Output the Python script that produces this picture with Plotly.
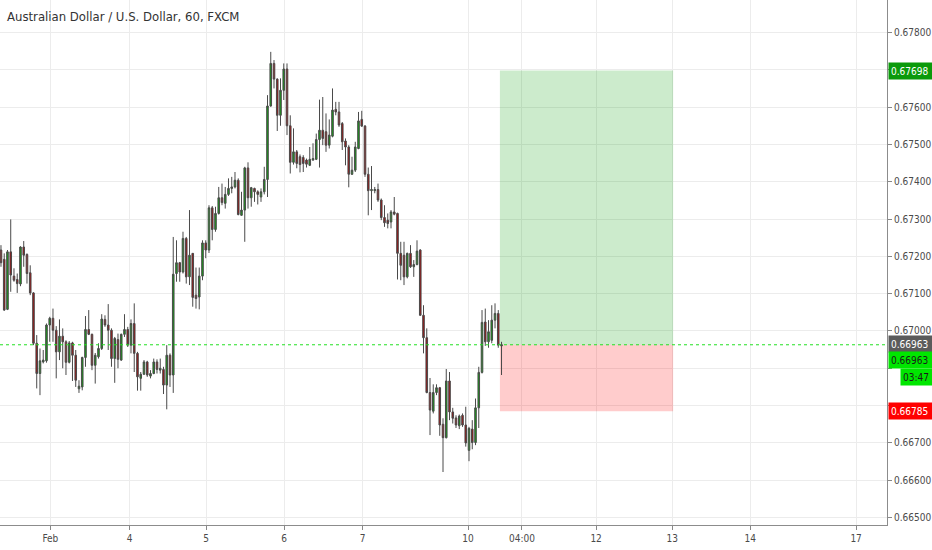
import plotly.graph_objects as go

# ---------------- data (hourly AUD/USD candles) ----------------
opens = [0.67217, 0.67192, 0.67058, 0.67212, 0.67147, 0.67138, 0.67126, 0.67225, 0.67205, 0.67156,
         0.67102, 0.66967, 0.66886, 0.66917, 0.66920, 0.67016, 0.67034, 0.67002, 0.66944, 0.66986,
         0.66971, 0.66916, 0.66968, 0.66935, 0.66845, 0.66850, 0.66929, 0.67004, 0.66991, 0.66908,
         0.66931, 0.66953, 0.67031, 0.67016, 0.67002, 0.66926, 0.66977, 0.66922, 0.66991, 0.67004,
         0.66962, 0.67020, 0.66940, 0.66873, 0.66884, 0.66917, 0.66879, 0.66886, 0.66917, 0.66895,
         0.66897, 0.66855, 0.66935, 0.66882, 0.67154, 0.67183, 0.67158, 0.67248, 0.67145, 0.67208,
         0.67096, 0.67091, 0.67147, 0.67236, 0.67217, 0.67330, 0.67272, 0.67315, 0.67357, 0.67342,
         0.67366, 0.67382, 0.67386, 0.67404, 0.67310, 0.67324, 0.67437, 0.67357, 0.67382, 0.67373,
         0.67359, 0.67373, 0.67406, 0.67603, 0.67717, 0.67675, 0.67578, 0.67645, 0.67702, 0.67550,
         0.67452, 0.67480, 0.67467, 0.67465, 0.67458, 0.67444, 0.67458, 0.67460, 0.67513, 0.67538,
         0.67534, 0.67498, 0.67522, 0.67594, 0.67587, 0.67556, 0.67509, 0.67493, 0.67420, 0.67431,
         0.67489, 0.67567, 0.67549, 0.67420, 0.67376, 0.67376, 0.67379, 0.67351, 0.67304, 0.67297,
         0.67292, 0.67319, 0.67315, 0.67208, 0.67203, 0.67145, 0.67208, 0.67172, 0.67178, 0.67217,
         0.67042, 0.66982, 0.66835, 0.66785, 0.66835, 0.66848, 0.66750, 0.66714, 0.66866, 0.66783,
         0.66767, 0.66746, 0.66774, 0.66748, 0.66680, 0.66737, 0.66701, 0.66794, 0.66889, 0.67024,
         0.66971, 0.66975, 0.67029, 0.67047, 0.66960]
highs = [0.67230, 0.67208, 0.67217, 0.67299, 0.67168, 0.67154, 0.67227, 0.67241, 0.67208, 0.67176,
         0.67104, 0.66989, 0.66953, 0.66949, 0.67020, 0.67038, 0.67060, 0.67013, 0.67031, 0.67007,
         0.66975, 0.66973, 0.66971, 0.66949, 0.66868, 0.66931, 0.67040, 0.67056, 0.66993, 0.66941,
         0.66967, 0.67045, 0.67042, 0.67072, 0.67007, 0.66984, 0.66993, 0.66993, 0.67045, 0.67011,
         0.67031, 0.67074, 0.66944, 0.66890, 0.66922, 0.66920, 0.66895, 0.66926, 0.66924, 0.66926,
         0.66904, 0.66962, 0.66940, 0.67252, 0.67243, 0.67185, 0.67266, 0.67252, 0.67324, 0.67209,
         0.67170, 0.67170, 0.67243, 0.67243, 0.67337, 0.67335, 0.67333, 0.67386, 0.67395, 0.67386,
         0.67409, 0.67413, 0.67426, 0.67409, 0.67373, 0.67440, 0.67452, 0.67386, 0.67384, 0.67377,
         0.67382, 0.67440, 0.67632, 0.67748, 0.67726, 0.67677, 0.67677, 0.67717, 0.67717, 0.67578,
         0.67543, 0.67485, 0.67473, 0.67471, 0.67462, 0.67493, 0.67503, 0.67529, 0.67620, 0.67627,
         0.67583, 0.67567, 0.67650, 0.67614, 0.67614, 0.67560, 0.67516, 0.67498, 0.67467, 0.67507,
         0.67587, 0.67590, 0.67552, 0.67438, 0.67442, 0.67386, 0.67395, 0.67355, 0.67337, 0.67315,
         0.67324, 0.67359, 0.67317, 0.67239, 0.67239, 0.67210, 0.67230, 0.67190, 0.67243, 0.67219,
         0.67069, 0.67007, 0.66874, 0.66857, 0.66857, 0.66850, 0.66766, 0.66898, 0.66890, 0.66794,
         0.66774, 0.66776, 0.66779, 0.66797, 0.66743, 0.66761, 0.66819, 0.66904, 0.67056, 0.67060,
         0.67029, 0.67069, 0.67074, 0.67056, 0.66971]
lows = [0.67172, 0.67054, 0.67056, 0.67105, 0.67132, 0.67102, 0.67120, 0.67172, 0.67127, 0.67096,
        0.66962, 0.66846, 0.66828, 0.66913, 0.66915, 0.66971, 0.66971, 0.66873, 0.66922, 0.66900,
        0.66882, 0.66913, 0.66866, 0.66850, 0.66834, 0.66841, 0.66904, 0.66989, 0.66895, 0.66859,
        0.66926, 0.66949, 0.67011, 0.66949, 0.66904, 0.66861, 0.66900, 0.66920, 0.66984, 0.66957,
        0.66940, 0.66890, 0.66840, 0.66840, 0.66882, 0.66877, 0.66873, 0.66884, 0.66886, 0.66886,
        0.66831, 0.66790, 0.66850, 0.66834, 0.67132, 0.67132, 0.67154, 0.67127, 0.67123, 0.67065,
        0.67060, 0.67058, 0.67136, 0.67195, 0.67209, 0.67243, 0.67266, 0.67312, 0.67337, 0.67328,
        0.67362, 0.67369, 0.67382, 0.67310, 0.67309, 0.67239, 0.67328, 0.67333, 0.67346, 0.67339,
        0.67346, 0.67366, 0.67359, 0.67601, 0.67650, 0.67536, 0.67550, 0.67619, 0.67525, 0.67422,
        0.67446, 0.67436, 0.67425, 0.67426, 0.67438, 0.67442, 0.67456, 0.67458, 0.67438, 0.67498,
        0.67480, 0.67489, 0.67519, 0.67578, 0.67547, 0.67485, 0.67444, 0.67385, 0.67418, 0.67426,
        0.67487, 0.67547, 0.67413, 0.67310, 0.67324, 0.67369, 0.67346, 0.67297, 0.67279, 0.67275,
        0.67275, 0.67310, 0.67138, 0.67136, 0.67123, 0.67141, 0.67169, 0.67145, 0.67176, 0.67041,
        0.66940, 0.66833, 0.66721, 0.66779, 0.66828, 0.66719, 0.66622, 0.66712, 0.66761, 0.66752,
        0.66740, 0.66737, 0.66743, 0.66690, 0.66651, 0.66683, 0.66694, 0.66740, 0.66886, 0.66960,
        0.66955, 0.66967, 0.67007, 0.66955, 0.66882]
closes = [0.67183, 0.67056, 0.67212, 0.67150, 0.67136, 0.67127, 0.67225, 0.67203, 0.67154, 0.67102,
          0.66967, 0.66886, 0.66920, 0.66922, 0.67016, 0.67034, 0.67002, 0.66944, 0.66986, 0.66971,
          0.66916, 0.66968, 0.66935, 0.66868, 0.66852, 0.66929, 0.67004, 0.66991, 0.66908, 0.66935,
          0.66953, 0.67032, 0.67016, 0.67002, 0.66926, 0.66980, 0.66924, 0.66991, 0.67004, 0.66962,
          0.67020, 0.66940, 0.66877, 0.66884, 0.66917, 0.66882, 0.66886, 0.66917, 0.66897, 0.66900,
          0.66855, 0.66935, 0.66882, 0.67152, 0.67183, 0.67158, 0.67248, 0.67145, 0.67203, 0.67090,
          0.67087, 0.67147, 0.67236, 0.67217, 0.67330, 0.67272, 0.67315, 0.67357, 0.67344, 0.67366,
          0.67382, 0.67386, 0.67404, 0.67312, 0.67324, 0.67437, 0.67357, 0.67384, 0.67373, 0.67366,
          0.67373, 0.67406, 0.67603, 0.67717, 0.67675, 0.67578, 0.67645, 0.67702, 0.67550, 0.67452,
          0.67480, 0.67449, 0.67446, 0.67449, 0.67447, 0.67460, 0.67462, 0.67513, 0.67538, 0.67516,
          0.67498, 0.67525, 0.67592, 0.67587, 0.67552, 0.67507, 0.67493, 0.67420, 0.67431, 0.67493,
          0.67563, 0.67549, 0.67420, 0.67376, 0.67379, 0.67379, 0.67351, 0.67304, 0.67290, 0.67288,
          0.67319, 0.67313, 0.67208, 0.67176, 0.67145, 0.67208, 0.67172, 0.67178, 0.67214, 0.67042,
          0.66982, 0.66835, 0.66788, 0.66835, 0.66848, 0.66748, 0.66714, 0.66866, 0.66783, 0.66766,
          0.66748, 0.66772, 0.66748, 0.66700, 0.66739, 0.66701, 0.66794, 0.66889, 0.67023, 0.66971,
          0.66998, 0.67029, 0.67047, 0.66962, 0.66963]
bars = list(range(len(opens)))

# time-axis labels (position in bar units) and labels
tick_bars = [15.2, 39.6, 63.1, 87.1, 111.3, 143.7, 160.3, 183.1, 206.5, 230.5, 263.1]
tick_labels = ["Feb", "4", "5", "6", "7", "10", "04:00", "12", "13", "14", "17"]

# price-axis levels; levels hidden behind the price tags carry no text
price_levels = [0.665, 0.666, 0.667, 0.668, 0.669, 0.670, 0.671, 0.672, 0.673, 0.674,
                0.675, 0.676, 0.677, 0.678]
hidden_levels = [0.668, 0.669, 0.677]

# long-position tool
entry_price = 0.66963
target_price = 0.67698
stop_price = 0.66785
position_start_bar = 153.5
position_end_bar = 206.8
last_price = 0.66963
countdown = "03:47"
title_text = "Australian Dollar / U.S. Dollar, 60, FXCM"

FONT = "DejaVu Sans Condensed, Liberation Sans Narrow, DejaVu Sans, sans-serif"

price_text = ["" if any(abs(v - h) < 1e-9 for h in hidden_levels) else "{:.5f}".format(v)
              for v in price_levels]

fig = go.Figure()
fig.add_trace(go.Candlestick(
    x=bars, open=opens, high=highs, low=lows, close=closes,
    increasing=dict(line=dict(color="#4a4a4a", width=1), fillcolor="#12a012"),
    decreasing=dict(line=dict(color="#4a4a4a", width=1), fillcolor="#a31010"),
    hoverinfo="skip", showlegend=False,
))

# position boxes
fig.add_shape(type="rect", x0=position_start_bar, x1=position_end_bar, y0=entry_price, y1=target_price,
              fillcolor="rgba(0,153,0,0.2)", line=dict(width=0), layer="between")
fig.add_shape(type="rect", x0=position_start_bar, x1=position_end_bar, y0=stop_price, y1=entry_price,
              fillcolor="rgba(255,0,0,0.2)", line=dict(width=0), layer="between")
# last price dotted line
fig.add_shape(type="line", xref="paper", x0=0, x1=1, y0=last_price, y1=last_price,
              line=dict(color="#22e022", width=1, dash="dot"), layer="above")


def tag(y, text, bg, fg, yshift=0, xshift=1, width=42):
    fig.add_annotation(xref="paper", x=1, xanchor="left", y=y, yanchor="middle", text=text,
                       showarrow=False, bgcolor=bg, font=dict(family=FONT, size=10, color=fg),
                       width=width, height=12, align="left", borderpad=2, xshift=xshift, yshift=yshift)


tag(target_price, "{:.5f}".format(target_price), "#0b9a0b", "#ffffff")
tag(entry_price, "{:.5f}".format(entry_price), "#5b5b5b", "#ffffff", yshift=1)
tag(last_price, "{:.5f}".format(last_price), "#00e600", "#1a1a1a", yshift=-15)
tag(last_price, countdown, "#00e600", "#1a1a1a", yshift=-32, xshift=13, width=30)
tag(stop_price, "{:.5f}".format(stop_price), "#ff0000", "#ffffff")

fig.add_annotation(xref="paper", yref="paper", x=0, y=1, xanchor="left", yanchor="top",
                   xshift=5, yshift=-7, text=title_text, showarrow=False,
                   font=dict(family=FONT, size=13, color="#333333"))

fig.update_layout(
    width=932, height=550,
    margin=dict(l=0, r=45, t=0, b=25),
    paper_bgcolor="#ffffff", plot_bgcolor="#ffffff",
    showlegend=False,
    font=dict(family=FONT, size=10, color="#4a4a4a"),
    xaxis=dict(
        range=[-0.3, 272.6], rangeslider=dict(visible=False),
        tickmode="array", tickvals=tick_bars, ticktext=tick_labels,
        ticks="outside", ticklen=4, tickcolor="#888888",
        showgrid=True, gridcolor="#ececec", gridwidth=1,
        showline=True, linecolor="#8c8c8c", linewidth=1, zeroline=False,
        tickfont=dict(family=FONT, size=10, color="#4a4a4a"),
    ),
    yaxis=dict(
        side="right", range=[0.66480, 0.67887],
        tickmode="array", tickvals=price_levels, ticktext=price_text,
        ticks="outside", ticklen=4, tickcolor="#888888",
        showgrid=True, gridcolor="#ececec", gridwidth=1,
        showline=True, linecolor="#8c8c8c", linewidth=1, zeroline=False,
        tickfont=dict(family=FONT, size=10, color="#4a4a4a"),
    ),
)

fig.write_html("out.html", config={"displayModeBar": False},
               post_script="document.body.style.margin='0px';")
